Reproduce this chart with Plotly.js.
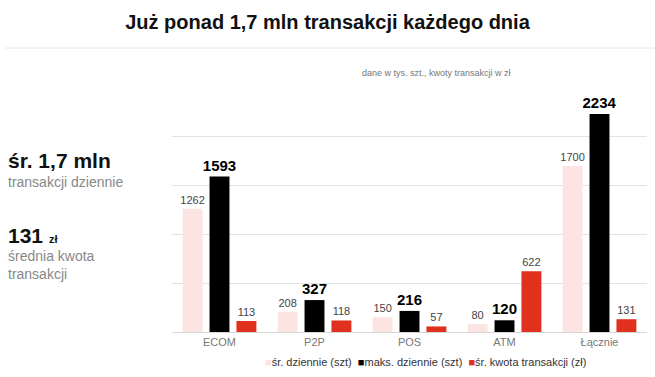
<!DOCTYPE html>
<html><head><meta charset="utf-8">
<script src="https://cdn.plot.ly/plotly-3.0.1.min.js"></script>
<style>html,body{margin:0;padding:0;background:#fff}#chart{width:655px;height:377px}</style>
</head><body><div id="chart"></div>
<script>
const categories = ["ECOM", "P2P", "POS", "ATM", "Łącznie"];
const avgDaily = [1262, 208, 150, 80, 1700];
const maxDaily = [1593, 327, 216, 120, 2234];
const avgAmount = [113, 118, 57, 622, 131];
const seriesNames = ["śr. dziennie (szt)", "maks. dziennie (szt)", "śr. kwota transakcji (zł)"];
const seriesColors = ['#fbe4e1', '#000000', '#e0301e'];

const F = '"Liberation Sans", Arial, sans-serif';
const traces = [
  {type:'bar', name:seriesNames[0], x:categories, y:avgDaily, marker:{color:seriesColors[0]},
   textposition:'outside', texttemplate:'%{y}', constraintext:'none', cliponaxis:false,
   textfont:{family:F, size:11, color:'#444'}},
  {type:'bar', name:seriesNames[1], x:categories, y:maxDaily, marker:{color:seriesColors[1]},
   textposition:'outside', texttemplate:'<b>%{y}</b>', constraintext:'none', cliponaxis:false,
   textfont:{family:F, size:15, color:'#000'}},
  {type:'bar', name:seriesNames[2], x:categories, y:avgAmount, marker:{color:seriesColors[2]},
   textposition:'outside', texttemplate:'%{y}', constraintext:'none', cliponaxis:false,
   textfont:{family:F, size:11, color:'#444'}}
];
const PL = 172, PW = 475, PB = 332, PH = 244;
const px = v => (v - PL) / PW, py = v => (PB - v) / PH;
const legendText = seriesNames.map((n, i) =>
  '<span style="color:' + seriesColors[i] + '">■</span>' + n).join('\u00a0\u00a0');
const layout = {
  width:655, height:377, paper_bgcolor:'#fff', plot_bgcolor:'#fff',
  margin:{l:172, r:8, t:88, b:45},
  font:{family:F},
  barmode:'group', bargap:0.15, bargroupgap:0.26,
  title:{text:'<b>Już ponad 1,7 mln transakcji każdego dnia</b>', font:{family:F, size:20, color:'#111'},
    x:0.5, xref:'container', xanchor:'center', y:1-22/377, yref:'container', yanchor:'middle'},
  xaxis:{showgrid:false, zeroline:false, showline:true, linecolor:'#d9d9d9', ticks:'',
    tickfont:{family:F, size:11, color:'#777'}},
  yaxis:{range:[0,2500], dtick:500, showgrid:true, gridcolor:'#e3e3e3', showticklabels:false,
    zeroline:false, ticks:''},
  showlegend:false,
  shapes:[{type:'line', xref:'paper', yref:'paper', x0:px(5), x1:px(655), y0:py(48), y1:py(48),
    line:{color:'#e6e6e6', width:1}}],
  annotations:[
    {xref:'paper', yref:'paper', x:px(425), y:py(362), xanchor:'center', yanchor:'middle', showarrow:false,
     text:legendText, font:{family:F, size:11, color:'#333'}},
    {xref:'paper', yref:'paper', x:px(436), y:py(73), xanchor:'center', yanchor:'middle', showarrow:false,
     text:'dane w tys. szt., kwoty transakcji w zł', font:{family:F, size:9, color:'#777'}},
    {xref:'paper', yref:'paper', x:px(6), y:py(160), xanchor:'left', yanchor:'middle', showarrow:false,
     text:'<b>śr. 1,7 mln</b>', font:{family:F, size:21, color:'#111'}},
    {xref:'paper', yref:'paper', x:px(6), y:py(182), xanchor:'left', yanchor:'middle', showarrow:false,
     text:'transakcji dziennie', font:{family:F, size:14, color:'#888'}},
    {xref:'paper', yref:'paper', x:px(6), y:py(235), xanchor:'left', yanchor:'middle', showarrow:false,
     text:'<b>131 <span style="font-size:11px">zł</span></b>', font:{family:F, size:21, color:'#111'}},
    {xref:'paper', yref:'paper', x:px(6), y:py(256), xanchor:'left', yanchor:'middle', showarrow:false,
     text:'średnia kwota', font:{family:F, size:14, color:'#888'}},
    {xref:'paper', yref:'paper', x:px(6), y:py(274), xanchor:'left', yanchor:'middle', showarrow:false,
     text:'transakcji', font:{family:F, size:14, color:'#888'}}
  ]
};
Plotly.newPlot('chart', traces, layout, {displayModeBar:false, staticPlot:true});
</script></body></html>
